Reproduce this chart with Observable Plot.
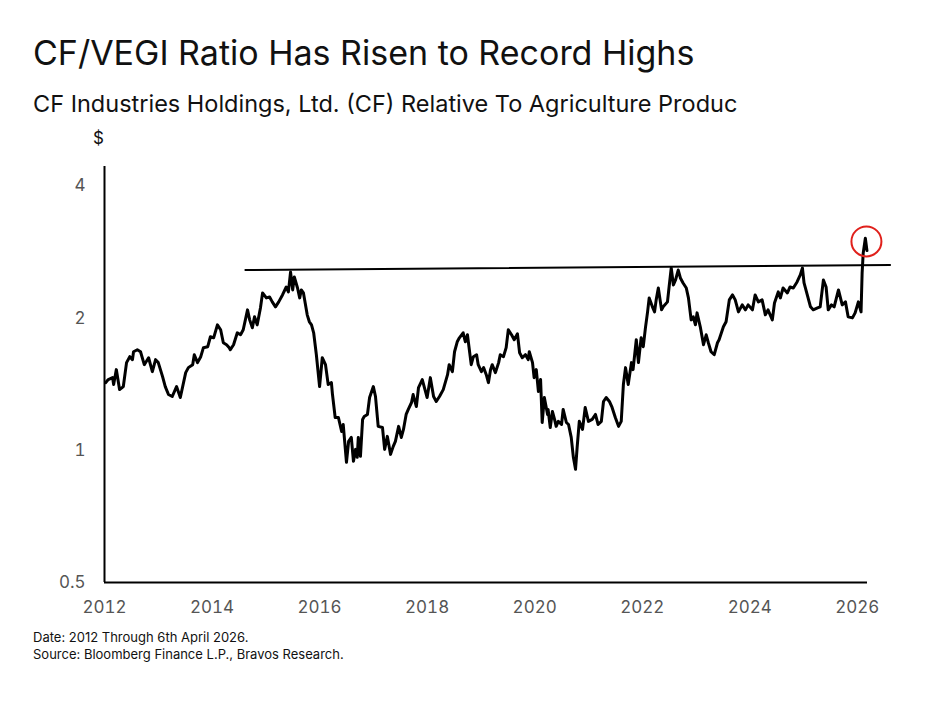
<!DOCTYPE html>
<html>
<head>
<meta charset="utf-8">
<script src="https://cdn.jsdelivr.net/npm/d3@7"></script>
<script src="https://cdn.jsdelivr.net/npm/@observablehq/plot@0.6"></script>
<style>
  html, body { margin: 0; padding: 0; background: #fff; }
  #wrap { position: relative; width: 938px; height: 703px; overflow: hidden; font-family: Inter, "Noto Sans", sans-serif; }
  #chart { position: absolute; left: 0; top: 0; }
  .t { position: absolute; white-space: nowrap; color: #111; }
  #title { left: 33px; top: 32px; font-size: 34px; line-height: 42px; }
  #subtitle { left: 33px; top: 89px; font-size: 23.5px; line-height: 29px; }
  #unit { left: 93px; top: 127px; font-size: 17px; line-height: 22px; }
  #caption { left: 33px; top: 629px; font-size: 13px; line-height: 17px; color: #111; }
</style>
</head>
<body>
<div id="wrap">
  <div id="chart"></div>
  <div class="t" id="title">CF/VEGI Ratio Has Risen to Record Highs</div>
  <div class="t" id="subtitle">CF Industries Holdings, Ltd. (CF) Relative To Agriculture Produc</div>
  <div class="t" id="unit">$</div>
  <div class="t" id="caption">Date: 2012 Through 6th April 2026.<br>Source: Bloomberg Finance L.P., Bravos Research.</div>
</div>
<script>
// CF/VEGI ratio (decimal year, value)
const years = [
  2012.02,2012.07,2012.15,2012.17,2012.22,2012.28,2012.35,2012.41,2012.47,2012.52,2012.54,2012.61,2012.67,2012.74,2012.82,2012.89,2012.95,
  2013.00,2013.08,2013.13,2013.19,2013.26,2013.34,2013.41,2013.51,2013.56,2013.64,2013.67,2013.73,2013.79,2013.84,2013.92,2013.97,
  2014.03,2014.10,2014.16,2014.21,2014.27,2014.32,2014.34,2014.40,2014.47,2014.53,2014.58,2014.66,2014.70,2014.75,2014.79,2014.84,2014.90,2014.94,
  2015.01,2015.07,2015.12,2015.18,2015.24,2015.31,2015.38,2015.42,2015.46,2015.50,2015.53,2015.59,2015.63,2015.66,2015.70,2015.77,2015.81,2015.85,2015.89,2015.94,
  2016.00,2016.05,2016.11,2016.16,2016.22,2016.24,2016.29,2016.35,2016.41,2016.44,2016.50,2016.54,2016.59,2016.63,2016.67,2016.70,2016.72,2016.76,2016.80,2016.83,2016.89,2016.93,
  2017.00,2017.04,2017.09,2017.17,2017.21,2017.26,2017.32,2017.37,2017.41,2017.47,2017.52,2017.56,2017.61,2017.65,2017.71,2017.74,2017.80,2017.84,2017.91,2017.97,
  2018.00,2018.06,2018.12,2018.17,2018.23,2018.30,2018.38,2018.41,2018.47,2018.51,2018.56,2018.60,2018.67,2018.71,2018.75,2018.82,2018.86,2018.92,2018.95,
  2019.01,2019.05,2019.10,2019.14,2019.18,2019.21,2019.27,2019.33,2019.36,2019.42,2019.47,2019.51,2019.57,2019.62,2019.68,2019.72,2019.77,2019.83,2019.88,2019.90,2019.96,2019.99,
  2020.03,2020.07,2020.11,2020.14,2020.18,2020.24,2020.25,2020.29,2020.33,2020.37,2020.40,2020.44,2020.50,2020.53,2020.59,2020.63,2020.68,2020.72,2020.76,2020.79,2020.83,2020.89,2020.94,
  2021.00,2021.07,2021.13,2021.18,2021.24,2021.28,2021.33,2021.39,2021.44,2021.50,2021.56,2021.61,2021.65,2021.69,2021.74,2021.80,2021.83,2021.89,2021.93,2021.98,
  2022.02,2022.06,2022.10,2022.13,2022.19,2022.23,2022.26,2022.30,2022.36,2022.39,2022.47,2022.50,2022.54,2022.58,2022.62,2022.67,2022.71,2022.76,2022.82,2022.86,2022.91,2022.95,2022.99,
  2023.02,2023.08,2023.14,2023.19,2023.23,2023.28,2023.34,2023.40,2023.43,2023.51,2023.56,2023.62,2023.68,2023.73,2023.79,2023.86,2023.92,2023.97,
  2024.05,2024.10,2024.16,2024.23,2024.29,2024.34,2024.42,2024.46,2024.53,2024.57,2024.62,2024.70,2024.75,2024.81,2024.88,2024.94,2024.98,
  2025.01,2025.07,2025.13,2025.18,2025.26,2025.31,2025.37,2025.42,2025.46,2025.52,2025.57,2025.65,2025.72,2025.78,2025.83,2025.91,2025.96,
  2026.02,2026.07,2026.09,2026.11,2026.15,2026.18
];
const values = [
  1.426,1.449,1.464,1.412,1.527,1.375,1.397,1.584,1.634,1.609,1.677,1.695,1.677,1.567,1.625,1.511,1.609,
  1.584,1.472,1.397,1.340,1.326,1.397,1.319,1.503,1.543,1.567,1.651,1.584,1.634,1.713,1.722,1.814,
  1.804,1.931,1.882,1.758,1.740,1.713,1.695,1.740,1.852,1.833,1.882,2.089,1.982,1.901,2.014,1.931,2.110,2.283,
  2.224,2.235,2.178,2.122,2.178,2.259,2.355,2.295,2.547,2.319,2.482,2.343,2.224,2.319,2.283,2.035,1.962,1.931,1.852,1.651,
  1.397,1.625,1.567,1.412,1.426,1.340,1.188,1.188,1.104,1.145,0.939,1.048,1.070,0.944,1.005,0.964,1.070,0.969,1.176,1.194,1.207,1.319,
  1.397,1.326,1.134,1.127,1.005,1.076,0.979,1.021,1.048,1.134,1.070,1.116,1.207,1.239,1.285,1.340,1.258,1.390,1.449,1.361,
  1.319,1.464,1.326,1.292,1.326,1.375,1.487,1.567,1.511,1.677,1.767,1.804,1.852,1.767,1.833,1.567,1.634,1.651,1.567,
  1.511,1.543,1.487,1.426,1.527,1.567,1.503,1.584,1.651,1.634,1.713,1.882,1.833,1.786,1.842,1.668,1.625,1.651,1.609,1.677,1.584,1.464,
  1.527,1.361,1.449,1.157,1.319,1.207,1.239,1.127,1.226,1.176,1.134,1.164,1.145,1.239,1.157,1.145,1.070,0.964,0.905,1.016,1.164,1.116,1.252,
  1.164,1.176,1.207,1.145,1.164,1.292,1.319,1.292,1.252,1.188,1.134,1.164,1.412,1.543,1.412,1.584,1.527,1.786,1.584,1.804,
  1.722,1.901,2.067,2.224,2.122,2.067,2.201,2.343,2.089,2.122,2.178,2.355,2.601,2.380,2.443,2.574,2.469,2.405,2.343,2.224,1.982,2.014,1.931,
  2.056,1.911,1.740,1.833,1.758,1.677,1.651,1.758,1.786,1.911,1.962,2.201,2.259,2.201,2.067,2.144,2.089,2.144,
  2.089,2.259,2.178,2.201,2.035,2.089,1.982,2.166,2.295,2.224,2.343,2.283,2.355,2.343,2.418,2.508,2.601,
  2.405,2.259,2.122,2.089,2.110,2.122,2.443,2.355,2.089,2.144,2.122,2.319,2.144,2.178,2.014,2.003,2.056,
  2.178,2.067,2.534,2.813,3.042,2.850
];

// resistance line endpoints
const resistX = [2014.62, 2026.61];
const resistY = [2.574, 2.642];

// highlighted record high
const highlightX = [2026.17];
const highlightY = [2.99];

const xTicks = [2012, 2014, 2016, 2018, 2020, 2022, 2024, 2026];
const yTicks = [0.5, 1, 2, 4];

const series = years.map((x, i) => ({x, y: values[i]}));
const resist = resistX.map((x, i) => ({x, y: resistY[i]}));
const highlight = highlightX.map((x, i) => ({x, y: highlightY[i]}));

const chart = Plot.plot({
  width: 938,
  height: 703,
  marginLeft: 104,
  marginRight: 71,
  marginTop: 166,
  marginBottom: 121,
  style: { background: "transparent", fontFamily: "Inter, sans-serif" },
  x: { domain: [2012, 2026.19] },
  y: { type: "log", domain: [0.5, 4.43] },
  marks: [
    Plot.axisX({ ticks: xTicks, tickFormat: d => String(d), tickSize: 0, tickPadding: 18, fontSize: 17, color: "#555", label: null }),
    Plot.axisY({ ticks: yTicks, tickFormat: d => String(d), tickSize: 0, tickPadding: 19, fontSize: 17, color: "#555", label: null }),
    Plot.ruleY([0.5], { stroke: "#000", strokeWidth: 2 }),
    Plot.ruleX([2012], { stroke: "#000", strokeWidth: 2 }),
    Plot.line(resist, { x: "x", y: "y", stroke: "#000", strokeWidth: 2 }),
    Plot.line(series, { x: "x", y: "y", stroke: "#000", strokeWidth: 3, strokeLinejoin: "round" }),
    Plot.dot(highlight, { x: "x", y: "y", r: 15, stroke: "#e0201b", strokeWidth: 2, fill: "none" })
  ]
});
document.getElementById("chart").appendChild(chart);
</script>
</body>
</html>
